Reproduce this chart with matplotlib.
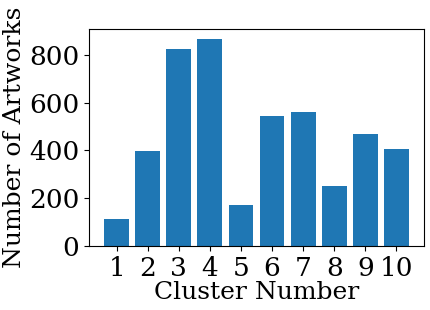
import matplotlib
matplotlib.use("Agg")
from matplotlib import pyplot as plt
import numpy as np

clusters = [1, 2, 3, 4, 5, 6, 7, 8, 9, 10]
counts = [114, 398, 823, 865, 172, 544, 561, 252, 469, 406]

plt.rcParams['font.family'] = 'DejaVu Serif'

fig = plt.figure(figsize=(4.3, 3.1), dpi=100)
ax = fig.add_axes([0.207, 0.206, 0.779, 0.701])
ax.bar(clusters, counts, color='#1f77b4')
ax.set_xticks(clusters)
ax.set_yticks([0, 200, 400, 600, 800])
ax.tick_params(labelsize=19)
ax.set_xlabel('Cluster Number', fontsize=18, labelpad=0)
ax.set_ylabel('Number of Artworks', fontsize=18, labelpad=2)

fig.savefig('out.png', dpi=100)
